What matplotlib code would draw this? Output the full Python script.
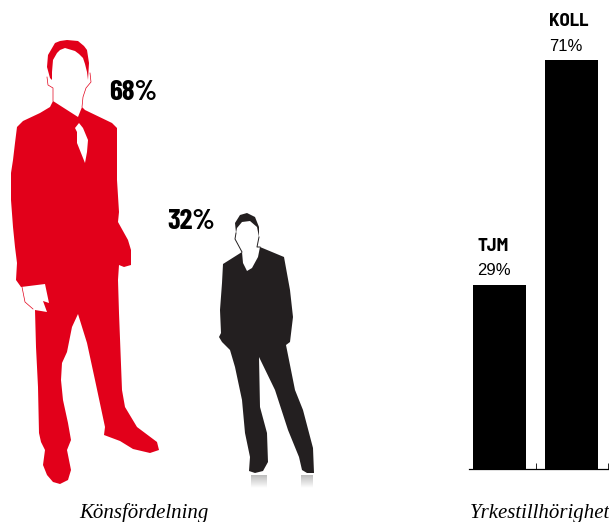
#!/usr/bin/env python
# -*- coding: utf-8 -*-
"""Gender split (two silhouettes) and occupational group (two bars)."""

import numpy as np
import matplotlib
matplotlib.use("Agg")
import matplotlib.pyplot as plt
from matplotlib.patches import Polygon

W, H = 609, 522
RED = "#e2001a"
DARK = "#231f20"
BOLD_FONT = ["Barlow Condensed", "Liberation Sans"]
LABEL_FONT = ["Barlow Semi Condensed", "Liberation Sans"]
PLAIN_FONT = ["Liberation Sans"]
SERIF_FONT = ["Liberation Serif"]

# chart values: the drawn bars are not to scale with their printed labels
groups = ["TJM", "KOLL"]
bar_heights = [32, 71]
group_labels = ["29%", "71%"]
gender_labels = ["68%", "32%"]
captions = ["Könsfördelning", "Yrkestillhörighet"]

# illustration outlines, in pixels of the picture
man_body = [
    (53, 101), (50, 107), (40, 113), (23, 121), (17, 127), (15, 143), (13, 160), (11, 173),
    (11, 200), (13, 227), (15, 247), (17, 263), (16, 280), (21, 287), (45, 284), (49, 303),
    (43, 301), (47, 312), (35, 310), (36, 347), (38, 387), (39, 433), (41, 442), (45, 450),
    (43, 465), (47, 475), (53, 482), (60, 484), (68, 480), (71, 470), (67, 450), (71, 440),
    (68, 423), (63, 400), (61, 380), (62, 363), (67, 352), (72, 327), (78, 314), (87, 343),
    (95, 380), (105, 427), (104, 435), (120, 441), (133, 449), (150, 453), (159, 450),
    (157, 442), (137, 427), (125, 407), (122, 390), (119, 313), (118, 280), (119, 265),
    (124, 267), (131, 265), (131, 250), (128, 240), (118, 222), (119, 212), (117, 180),
    (117, 128), (112, 123), (85, 110), (82, 107), (78, 117),
]
man_hair = [
    (50, 78), (47, 67), (48, 55), (55, 43), (60, 41), (67, 40), (78, 41), (84, 46), (87, 50),
    (89, 63), (88, 80), (87, 72), (85, 64), (83, 58), (79, 54), (75, 51), (65, 48), (60, 50),
    (57, 53), (53, 60), (52, 72), (52, 80),
]
man_tie = [(75, 128), (79, 123), (83, 128), (88, 140), (87, 152), (85, 163), (77, 143), (77, 132)]
man_lines = [
    [(47, 77), (48, 85), (53, 88), (53, 101)],
    [(90, 73), (91, 82), (86, 88), (83, 97), (82, 107)],
    [(22, 287), (25, 302), (33, 309)],
]
woman_body = [
    (242, 252), (223, 264), (222, 283), (220, 310), (221, 333), (219, 337), (222, 342),
    (230, 350), (235, 367), (242, 400), (245, 433), (250, 457), (249, 471), (255, 473),
    (263, 471), (268, 462), (267, 433), (260, 407), (259, 357), (275, 390), (288, 430),
    (299, 457), (302, 470), (307, 473), (314, 473), (313, 448), (303, 410), (295, 390),
    (286, 345), (290, 342), (293, 317), (290, 290), (284, 257), (260, 247), (258, 257),
    (252, 268), (247, 271), (243, 263),
]
woman_hair = [
    (236, 233), (235, 223), (240, 215), (247, 213), (255, 217), (259, 227), (259, 237),
    (257, 227), (250, 221), (242, 222), (237, 228),
]
woman_lines = [
    [(236, 233), (235, 239), (242, 252)],
    [(259, 237), (257, 247), (260, 247)],
]
shadows = [(251, 267, 475, 488), (301, 313, 475, 488)]


def main():
    fig = plt.figure(figsize=(W / 100, H / 100), dpi=100)

    # bars
    left, right, base, top = 469, 607.5, 469, 60
    ax = fig.add_axes([left / W, 1 - base / H, (right - left) / W, (base - top) / H])
    x = np.arange(len(groups))
    ax.bar(x, bar_heights, width=0.736, color="black")
    ax.set_xlim(-0.424, 1.5)
    ax.set_ylim(0, max(bar_heights))
    for side in ["left", "right", "top"]:
        ax.spines[side].set_visible(False)
    ax.spines["bottom"].set_linewidth(0.9)
    ax.set_yticks([])
    ax.set_xticks(x + 0.5)
    ax.set_xticklabels([])
    ax.tick_params(axis="x", direction="in", length=4, width=0.6)
    for i, val in enumerate(bar_heights):
        ax.annotate(group_labels[i], (i, val), xytext=(-22.5, 9.5), textcoords="offset pixels",
                    ha="left", va="baseline", fontsize=12, family=PLAIN_FONT,
                    annotation_clip=False)
        ax.annotate(groups[i], (i, val), xytext=(-22.5, 34), textcoords="offset pixels",
                    ha="left", va="baseline", fontsize=13.5, fontweight="bold", family=LABEL_FONT,
                    annotation_clip=False)

    # overlay in picture pixels for the figures and captions
    art = fig.add_axes([0, 0, 1, 1], facecolor="none")
    art.axis("off")

    art.add_patch(Polygon(man_body, color=RED, lw=0))
    art.add_patch(Polygon(man_hair, color=RED, lw=0))
    art.add_patch(Polygon(man_tie, color="white", lw=0))
    for line in man_lines:
        xs, ys = zip(*line)
        art.plot(xs, ys, color=RED, lw=0.5)

    art.add_patch(Polygon(woman_body, color=DARK, lw=0))
    art.add_patch(Polygon(woman_hair, color=DARK, lw=0))
    for line in woman_lines:
        xs, ys = zip(*line)
        art.plot(xs, ys, color=DARK, lw=0.7)

    fade = np.linspace(0.74, 1, 32).reshape(-1, 1)
    for x0, x1, y0, y1 in shadows:
        art.imshow(fade, extent=(x0, x1, y1, y0), cmap="gray", vmin=0, vmax=1, aspect="auto")
    art.set_xlim(0, W)
    art.set_ylim(H, 0)

    art.text(109, 100, gender_labels[0], fontsize=21, fontweight="bold", family=BOLD_FONT,
             ha="left", va="baseline")
    art.text(167, 229, gender_labels[1], fontsize=21, fontweight="bold", family=BOLD_FONT,
             ha="left", va="baseline")
    art.text(143.5, 518, captions[0], fontsize=15, style="italic", family=SERIF_FONT,
             ha="center", va="baseline")
    art.text(540, 518, captions[1], fontsize=15, style="italic", family=SERIF_FONT,
             ha="center", va="baseline")

    fig.savefig("out.png", dpi=100)


if __name__ == "__main__":
    main()
